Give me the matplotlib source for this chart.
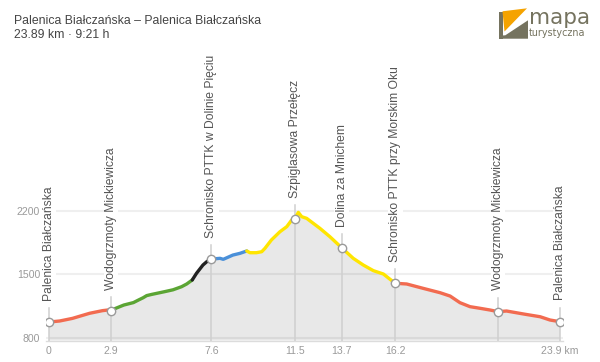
import matplotlib
matplotlib.use("Agg")
import matplotlib.pyplot as plt
from matplotlib.patches import Polygon
import numpy as np

# ---------------- data ----------------
dist = [0.0, 0.5, 1.1, 1.9, 2.5, 2.75, 2.9,
        3.05, 3.5, 3.95, 4.2, 4.4, 4.57, 4.8, 5.04, 5.4, 5.8, 6.2, 6.44, 6.7,
        6.9, 7.2, 7.38, 7.5, 7.6,
        8.0, 8.15, 8.6, 8.93, 9.25,
        9.4, 9.7, 9.95, 10.1, 10.4, 10.8, 11.12, 11.35, 11.5, 11.66, 11.82,
        12.05, 12.36, 12.67, 13.14, 13.7, 14.23, 14.7, 15.17, 15.64, 15.95, 16.2,
        16.73, 17.5, 18.29, 18.76, 19.22, 19.69, 20.16, 20.63, 21.0, 21.4,
        22.2, 22.97, 23.43, 23.9]
elev = [971, 982, 1011, 1067, 1096, 1103, 1092,
        1115, 1158, 1185, 1215, 1238, 1262, 1275, 1287, 1305, 1326, 1360, 1390, 1434,
        1508, 1599, 1636, 1655, 1665,
        1673, 1662, 1709, 1728, 1754,
        1735, 1735, 1746, 1783, 1875, 1966, 2022, 2095, 2106, 2180, 2132,
        2114, 2059, 2004, 1911, 1787, 1673, 1599, 1537, 1500, 1442, 1398,
        1390, 1342, 1294, 1257, 1184, 1140, 1122, 1103, 1085, 1092,
        1059, 1029, 993, 974]

seg_breaks = [0.0, 2.9, 6.7, 7.6, 9.25, 16.2, 23.9]
seg_colors = ["#f26b50", "#5ba534", "#222222", "#4a90d9", "#ffe500", "#f26b50"]

# waypoint labels as visible in the chart (the third one is cut by the plot frame)
wp_names = ["Palenica Białczańska", "Wodogrzmoty Mickiewicza",
            "Schronisko PTTK w Dolinie Pięciu",
            "Szpiglasowa Przełęcz", "Dolina za Mnichem",
            "Schronisko PTTK przy Morskim Oku", "Wodogrzmoty Mickiewicza",
            "Palenica Białczańska"]
wp_dist = [0.0, 2.9, 7.6, 11.5, 13.7, 16.2, 21.0, 23.9]
wp_elev = [971, 1092, 1665, 2106, 1787, 1398, 1085, 974]

xticks = [0, 2.9, 7.6, 11.5, 13.7, 16.2, 23.9]
xtick_labels = ["0", "2.9", "7.6", "11.5", "13.7", "16.2", "23.9 km"]
yticks = [800, 1500, 2200]

title = "Palenica Białczańska – Palenica Białczańska"
subtitle = "23.89 km · 9:21 h"

# ---------------- figure ----------------
W, H = 600, 362
FONT = ["Liberation Sans", "DejaVu Sans"]
plt.rcParams["font.family"] = FONT

fig = plt.figure(figsize=(W / 100, H / 100), dpi=100)


def fp(x, y):
    return (x / W, 1 - y / H)


ax_left, ax_right, ax_top, ax_bot = 46.4, 562.6, 52, 340.5
ax = fig.add_axes([ax_left / W, 1 - ax_bot / H, (ax_right - ax_left) / W,
                   (ax_bot - ax_top) / H])
ax.set_xlim(-0.12, 24.02)
ax.set_ylim(767, 3948)

d = np.array(dist)
e = np.array(elev)

# grid lines (below the fill)
for yv in yticks:
    ax.axhline(yv, color="#efefef", lw=1.5, zorder=0)

# fill
ax.fill_between(d, e, 767, facecolor=(0, 0, 0, 0.09), lw=0, zorder=1)

# coloured segments
for i, c in enumerate(seg_colors):
    a, b = seg_breaks[i], seg_breaks[i + 1]
    m = (d >= a - 1e-9) & (d <= b + 1e-9)
    ax.plot(d[m], e[m], color=c, lw=2.4, solid_capstyle="round",
            solid_joinstyle="round", zorder=4)

# waypoint vertical lines, markers and labels
fig.canvas.draw()
inv = ax.transData.inverted()
for name, x, y in zip(wp_names, wp_dist, wp_elev):
    px, py = ax.transData.transform((x, y))
    _, ytop = inv.transform((px, py + 14))
    ax.plot([x, x], [767, ytop], color="#cfcfcf", lw=1.1, zorder=3)
    ax.plot([x], [y], marker="o", ms=6, mfc="white", mec="#9a9a9a", mew=1.0,
            zorder=6)
    ax.annotate(name, xy=(x, y), xytext=(0, 15.3), textcoords="offset points",
                rotation=90, ha="center", va="bottom", fontsize=8.7,
                color="#555555", zorder=7,
                bbox=dict(boxstyle="square,pad=0.12", fc="white", ec="none"))

# axes styling
for s in ["left", "right", "top"]:
    ax.spines[s].set_visible(False)
ax.spines["bottom"].set_color("#dcdcdc")
ax.spines["bottom"].set_linewidth(1.0)
ax.set_xticks(xticks)
ax.set_xticklabels(xtick_labels)
ax.set_yticks(yticks)
ax.set_yticklabels([str(v) for v in yticks])
ax.tick_params(axis="both", length=0, labelsize=7.6, labelcolor="#9a9a9a")
ax.tick_params(axis="x", pad=4.3)
ax.tick_params(axis="y", pad=4.6)

# title
fig.text(*fp(14, 24), title, fontsize=8.8, color="#444444", va="baseline", ha="left")
fig.text(*fp(14, 38), subtitle, fontsize=8.8, color="#444444", va="baseline", ha="left")

# logo
olive = "#75735f"
orange = "#f5a300"
fig.add_artist(Polygon([fp(498.5, 12), fp(502.5, 12), fp(502.5, 38.7), fp(498.5, 38.7)],
                       closed=True, transform=fig.transFigure, fc=olive, ec="none"))
fig.add_artist(Polygon([fp(502.5, 38.7), fp(528, 38.7), fp(528, 20.3), fp(505.3, 35.3),
                        fp(502.5, 35.5)],
                       closed=True, transform=fig.transFigure, fc=olive, ec="none"))
fig.add_artist(Polygon([fp(502.5, 11.3), fp(527, 8.3), fp(504.5, 31.5)],
                       closed=True, transform=fig.transFigure, fc=orange, ec="none"))
fig.text(*fp(529, 24), "mapa", fontsize=15.5, color=olive, va="baseline",
         ha="left", family=["DejaVu Sans"])
fig.text(*fp(529, 35.5), "turystyczna", fontsize=6.9, color=olive, va="baseline",
         ha="left", family=["DejaVu Sans"])

fig.savefig("out.png", dpi=100)
